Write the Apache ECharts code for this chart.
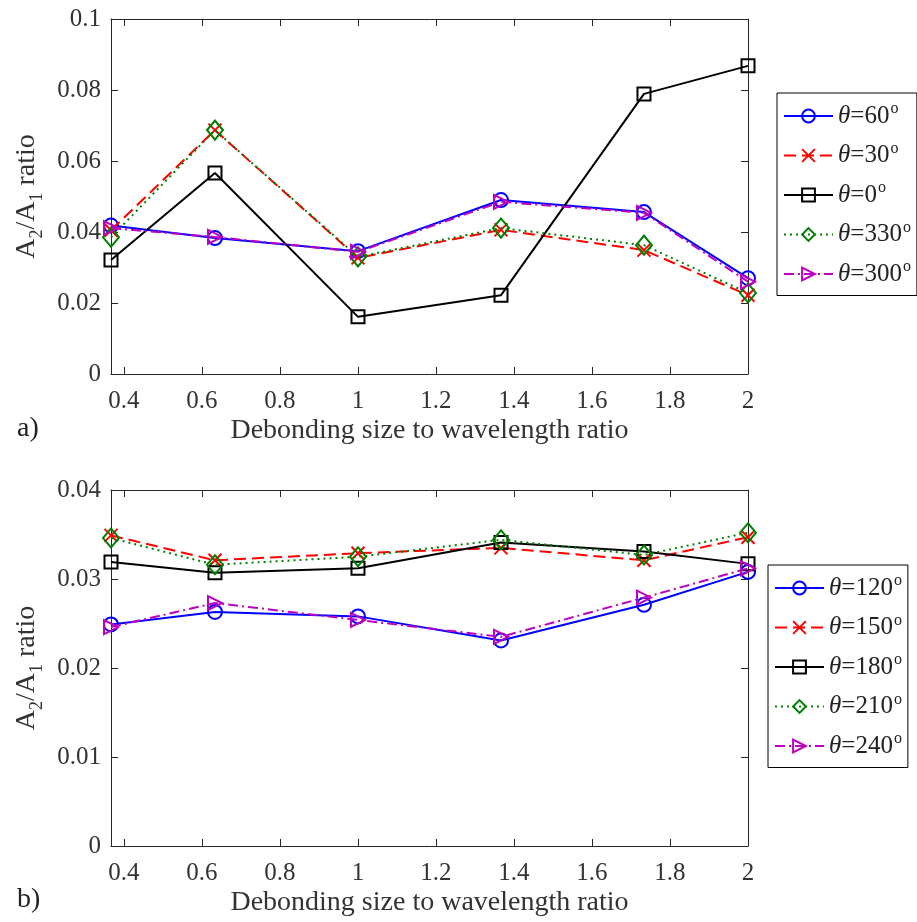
<!DOCTYPE html>
<html>
<head>
<meta charset="utf-8">
<script src="https://cdn.jsdelivr.net/npm/echarts@6/dist/echarts.min.js"></script>
<style>
    html, body { margin: 0; padding: 0; background: #fff; }
    #chart { width: 917px; height: 922px; }
</style>
</head>
<body>
<div id="chart"></div>
<script>
// debonding size / wavelength ratio (x positions of the samples)
const xValues = [0.3667, 0.6333, 1.0, 1.3667, 1.7333, 2.0];
const xTicks = [0.4, 0.6, 0.8, 1, 1.2, 1.4, 1.6, 1.8, 2];

// panel a)
const namesA = ['60', '30', '0', '330', '300'];
const theta60 = [0.0418, 0.0383, 0.0346, 0.0490, 0.0456, 0.0270];
const theta30 = [0.0405, 0.0687, 0.0327, 0.0406, 0.0349, 0.0222];
const theta0 = [0.0321, 0.0566, 0.0161, 0.0222, 0.0789, 0.0868];
const theta330 = [0.0385, 0.0687, 0.0330, 0.0411, 0.0363, 0.0228];
const theta300 = [0.0411, 0.0386, 0.0344, 0.0485, 0.0454, 0.0260];

// panel b)
const namesB = ['120', '150', '180', '210', '240'];
const theta120 = [0.0249, 0.0263, 0.0258, 0.0231, 0.0271, 0.0308];
const theta150 = [0.0349, 0.0321, 0.0329, 0.0335, 0.0321, 0.0347];
const theta180 = [0.0319, 0.0307, 0.0312, 0.0341, 0.0331, 0.0317];
const theta210 = [0.0346, 0.0316, 0.0325, 0.0344, 0.0327, 0.0352];
const theta240 = [0.0246, 0.0273, 0.0254, 0.0235, 0.0279, 0.0312];

(function () {
    const FONT = '"Liberation Serif", "DejaVu Serif", serif';
    const AX = '#262626';

    // matlab-ish line styles, one per slot
    const styles = [
        { color: '#0000ff', type: 'solid', symbol: 'circle', size: 14 },
        { color: '#ff0000', type: [12, 6], symbol: 'path://M0,0L10,10M10,0L0,10', size: 13 },
        { color: '#000000', type: 'solid', symbol: 'rect', size: 13 },
        { color: '#008000', type: [2, 4], symbol: 'diamond', size: [16, 19] },
        { color: '#bf00bf', type: [10, 4, 2, 4], symbol: 'path://M0,0L10,5L0,10Z', size: 14 }
    ];

    function makeSeries(names, values, gi) {
        return names.map(function (n, i) {
            const s = styles[i];
            return {
                name: 'θ=' + n,
                type: 'line',
                xAxisIndex: gi * 2,
                yAxisIndex: gi * 2,
                data: values[i].map((v, k) => [xValues[k], v]),
                symbol: s.symbol,
                symbolSize: s.size,
                symbolKeepAspect: true,
                showAllSymbol: true,
                clip: false,
                lineStyle: { color: s.color, width: 2, type: s.type },
                itemStyle: { color: 'transparent', borderColor: s.color, borderWidth: 2 },
                emphasis: { disabled: true },
                z: 2 + i
            };
        });
    }

    function xAxes(gi) {
        const base = {
            gridIndex: gi, type: 'value', min: 0.3667, max: 2,
            axisLine: { show: true, onZero: false, lineStyle: { color: AX, width: 1 } },
            axisTick: { show: true, inside: true, length: 7, customValues: xTicks, lineStyle: { color: AX } },
            splitLine: { show: false }
        };
        return [
            Object.assign({}, base, {
                position: 'bottom',
                axisLabel: { show: true, customValues: xTicks, margin: 15, color: '#333', fontFamily: FONT, fontSize: 25 },
                name: 'Debonding size to wavelength ratio',
                nameLocation: 'middle',
                nameGap: 43,
                nameTextStyle: { color: '#333', fontFamily: FONT, fontSize: 28 }
            }),
            Object.assign({}, base, { position: 'top', axisLabel: { show: false } })
        ];
    }

    function yAxes(gi, max, step) {
        const base = {
            gridIndex: gi, type: 'value', min: 0, max: max, interval: step,
            axisLine: { show: true, onZero: false, lineStyle: { color: AX, width: 1 } },
            axisTick: { show: true, inside: true, length: 7, lineStyle: { color: AX } },
            splitLine: { show: false }
        };
        return [
            Object.assign({}, base, {
                position: 'left',
                axisLabel: { show: true, margin: 10, color: '#333', fontFamily: FONT, fontSize: 25 },
                name: '{a|A}{s|2}{a|/A}{s|1}{a| ratio}',
                nameLocation: 'middle',
                nameGap: 62,
                nameTextStyle: {
                    color: '#333', fontFamily: FONT,
                    rich: {
                        a: { fontFamily: FONT, fontSize: 28, color: '#333', lineHeight: 34, verticalAlign: 'top' },
                        s: { fontFamily: FONT, fontSize: 18, color: '#333', lineHeight: 34, verticalAlign: 'bottom', padding: [10, 0, 0, 0] }
                    }
                }
            }),
            Object.assign({}, base, { position: 'right', axisLabel: { show: false } })
        ];
    }

    function legendFor(names, gi, left, top) {
        return {
            data: names.map(n => 'θ=' + n),
            orient: 'vertical',
            left: left,
            top: top,
            itemWidth: 49,
            itemHeight: 16,
            itemGap: 12,
            padding: [8, 6, 9, 6],
            borderColor: '#000',
            borderWidth: 1,
            backgroundColor: '#fff',
            selectedMode: false,
            formatter: function (name) {
                return '{t|θ}{n|' + name.slice(1) + '}{o|o}';
            },
            textStyle: {
                fontFamily: FONT,
                color: '#222',
                rich: {
                    t: { fontFamily: FONT, fontStyle: 'italic', fontSize: 25, lineHeight: 30, color: '#222' },
                    n: { fontFamily: FONT, fontSize: 25, lineHeight: 30, color: '#222' },
                    o: { fontFamily: FONT, fontSize: 16, lineHeight: 30, color: '#222', verticalAlign: 'top', padding: [0, 0, 0, 1] }
                }
            }
        };
    }

    function initChart() {
        const chart = echarts.init(document.getElementById('chart'), null, { renderer: 'canvas' });
        const option = {
            animation: false,
            backgroundColor: '#fff',
            grid: [
                { left: 111, top: 19, width: 637, height: 355 },
                { left: 111, top: 490, width: 637, height: 356 }
            ],
            xAxis: xAxes(0).concat(xAxes(1)),
            yAxis: yAxes(0, 0.1, 0.02).concat(yAxes(1, 0.04, 0.01)),
            legend: [
                legendFor(namesA, 0, 777, 93),
                legendFor(namesB, 1, 768, 565)
            ],
            series: makeSeries(namesA, [theta60, theta30, theta0, theta330, theta300], 0)
                .concat(makeSeries(namesB, [theta120, theta150, theta180, theta210, theta240], 1)),
            graphic: [
                { type: 'text', left: 17, top: 415, style: { text: 'a)', font: '28px ' + FONT, fill: '#222' } },
                { type: 'text', left: 17, top: 886, style: { text: 'b)', font: '28px ' + FONT, fill: '#222' } }
            ]
        };
        chart.setOption(option);
        return chart;
    }

    initChart();
})();
</script>
</body>
</html>
